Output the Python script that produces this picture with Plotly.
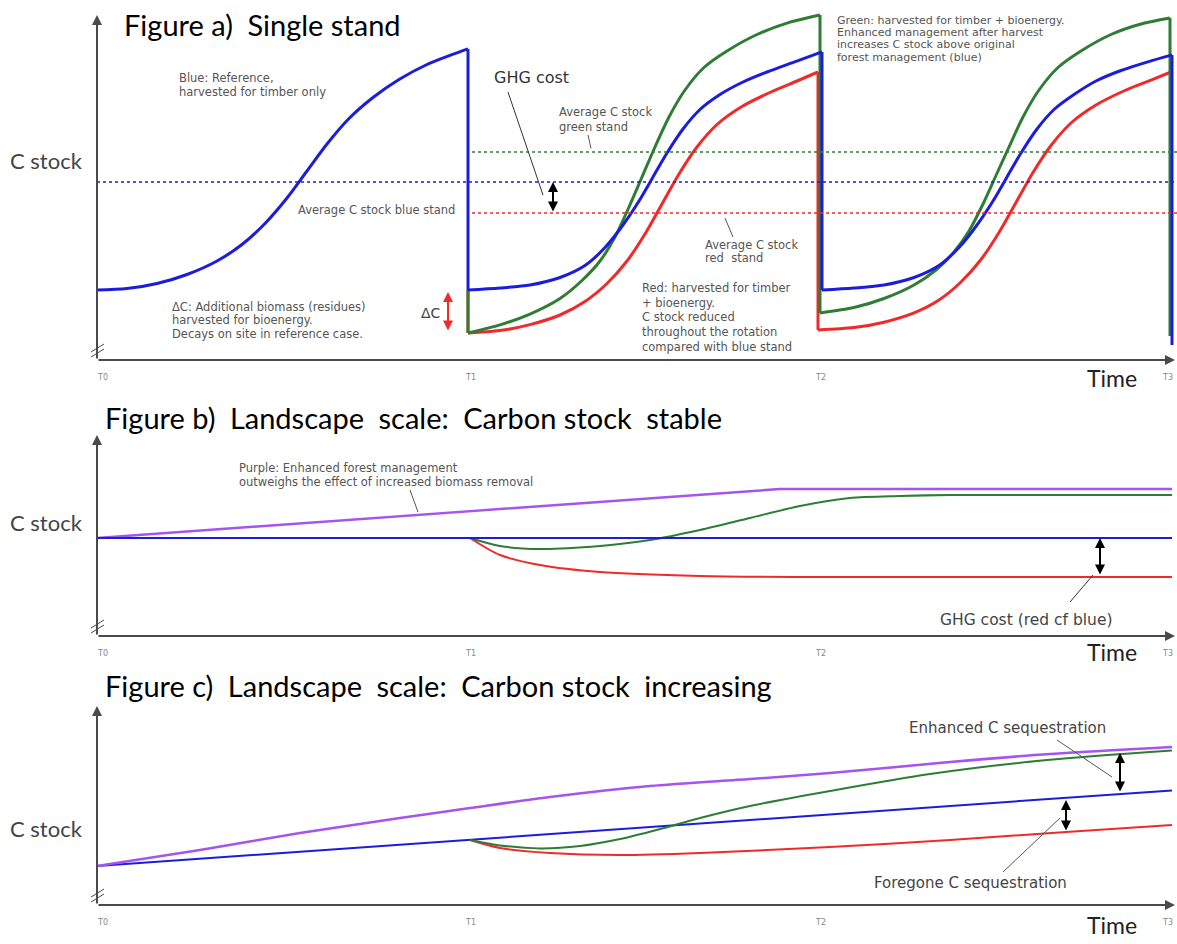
import plotly.graph_objects as go

W, H = 1177, 944

# ---------------- Figure a: single stand (time in years, C stock in arbitrary units) -------------
A_BLUE_T = [0, 3, 6, 9, 12, 14.5, 16.8, 19, 21, 23, 25.2, 27.6, 30.2, 33, 35.5, 37.1,
            37.1, 40.3, 43.3, 46.3, 48.8, 50.8, 52.6, 54.2, 55.6, 57, 58.6, 60.3, 62.3, 64.5, 67, 69.7, 72.5,
            72.5, 75.7, 78.7, 81.7, 84.2, 86.2, 88, 89.6, 91, 92.4, 94, 95.7, 97.7, 99.9, 102.4, 105, 107.5,
            107.5]
A_BLUE_C = [23.3, 23.8, 25.5, 28.5, 33, 38.5, 45.5, 54, 63, 72, 80.5, 87.5, 93.5, 98.5, 101.8, 103.7,
            23.3, 24, 25, 27.5, 31.5, 37.5, 45, 53, 61, 69, 77, 83.5, 88.5, 92.5, 96, 99.3, 102.7,
            23.3, 24, 25, 27.5, 31.5, 37.5, 45, 53, 61, 69, 77, 83.5, 88.5, 93, 96.5, 99.3, 101.7,
            5]
A_GREEN_T = [37.1, 37.1, 40.3, 43.3, 46.3, 48.5, 50.3, 51.8, 53.2, 54.5, 55.8, 57.2, 58.8, 60.7, 63, 66, 69, 72.3,
             72.3, 75.7, 78.7, 81.7, 83.9, 85.7, 87.2, 88.6, 89.9, 91.2, 92.6, 94.2, 96.1, 98.4, 101.4, 104.4, 107.3,
             107.3]
A_GREEN_C = [23.3, 9, 11.7, 15.3, 20.5, 26.5, 33, 41, 51, 61, 71, 81, 90, 97.5, 103, 108.5, 112.3, 115,
             15.7, 17.5, 20.5, 25, 30, 36, 43, 52, 61.5, 71, 81, 90, 97.5, 103, 108.5, 112, 114,
             8]
A_RED_T = [37.1, 37.1, 40.3, 43.3, 46.3, 48.8, 51, 53, 54.8, 56.5, 58.2, 60, 62, 64.5, 67.5, 70, 72.1,
           72.1, 75.7, 78.7, 81.7, 84.2, 86.4, 88.4, 90.2, 91.9, 93.6, 95.4, 97.4, 99.9, 102.9, 105.4, 107.4,
           107.4]
A_RED_C = [23.3, 9, 9.8, 11.8, 15, 19.5, 25.5, 33, 42, 52, 62, 71, 78.5, 84.5, 89.5, 93, 96,
           10, 10.8, 12.6, 15.7, 20, 26, 33.5, 42.5, 52.5, 62.5, 71.5, 79, 85, 90, 93.3, 96,
           8]
A_AVG_BLUE = 59.3
A_AVG_GREEN = 69.3
A_AVG_RED = 49

# ---------------- Figure b: landscape, carbon stock stable ----------------
B_BLUE_T = [0, 107.5]
B_BLUE_C = [49, 49]
B_PURPLE_T = [0, 68.3, 107.5]
B_PURPLE_C = [49, 73.5, 73.5]
B_GREEN_T = [37.3, 40.3, 44.3, 50.3, 55.3, 60.3, 65.3, 70.3, 75.3, 80.3, 85.3, 107.5]
B_GREEN_C = [49, 45, 43.5, 45, 48, 53, 59, 65, 69, 70, 70.5, 70.5]
B_RED_T = [37.3, 40.3, 44.3, 50.3, 60.3, 70.3, 107.5]
B_RED_C = [49, 40.5, 35.5, 32, 30, 29.5, 29.5]

# ---------------- Figure c: landscape, carbon stock increasing ----------------
C_BLUE_T = [0, 107.5]
C_BLUE_C = [19.5, 57.3]
C_PURPLE_T = [0, 10.3, 20.3, 30.3, 37.3, 45.3, 55.3, 65.3, 73.3, 85.3, 95.3, 107.5]
C_PURPLE_C = [19.5, 27.5, 36, 43.5, 48.5, 54, 59.5, 63, 66, 71.5, 75.5, 79]
C_GREEN_T = [37.3, 40.3, 44.3, 48.3, 52.3, 56.3, 60.3, 65.3, 73.3, 83.3, 95, 107.5]
C_GREEN_C = [32.5, 29.8, 28.3, 29.5, 33, 38, 43.5, 49.5, 57, 65.5, 72.5, 77.3]
C_RED_T = [37.3, 40.3, 45.3, 52.3, 60.3, 73.3, 85.3, 96.9, 107.5]
C_RED_C = [32.5, 28.5, 26, 25, 26, 29, 32.5, 36.5, 40]

T_TICKS = [0.5, 37.3, 72.3, 107]
T_LABELS = ["T0", "T1", "T2", "T3"]

TITLES = ["Figure a)\u2002Single stand",
          "Figure b)\u2002Landscape\u2002scale:\u2002Carbon stock\u2002stable",
          "Figure c)\u2002Landscape\u2002scale:\u2002Carbon stock\u2002increasing"]

BLUE, GREEN, RED, PURPLE = "#1c1cdc", "#2f7d34", "#f02a2a", "#a455ee"
AXC = "#4a4a4a"
TXT = "#555555"
SMALL = "DejaVu Sans"
BIG = "Lato"
SF = 11.5  # small annotation font size

X_MAX = 108
# panel vertical placement: (pixel row of the time axis, pixel row of the top of the range, units per pixel)
PANEL = {"": (360, 5, 3.0), "2": (636, 430, 2.0), "3": (905, 700, 2.0)}
ARROW_TOP = {"": 15, "2": 435, "3": 706}

fig = go.Figure()


def add_series(t, c, color, width, k):
    segs = []
    ct, cc = [t[0]], [c[0]]
    for i in range(1, len(t)):
        if t[i] == t[i - 1]:
            if len(ct) > 1:
                segs.append((ct, cc))
            segs.append(([t[i - 1], t[i]], [c[i - 1], c[i]]))
            ct, cc = [t[i]], [c[i]]
        else:
            ct.append(t[i])
            cc.append(c[i])
    if len(ct) > 1:
        segs.append((ct, cc))
    for tt, yy in segs:
        shp = "spline" if len(tt) > 3 else "linear"
        fig.add_trace(go.Scatter(x=tt, y=yy, mode="lines", xaxis="x" + k, yaxis="y" + k,
                                 line=dict(color=color, width=width, shape=shp, smoothing=0.8),
                                 hoverinfo="skip", showlegend=False))


def note(x, y, text, k, size=SF, color=TXT, family=SMALL, xanchor="left", yanchor="middle"):
    fig.add_annotation(x=x, y=y, xref="x" + k, yref="y" + k, text=text, showarrow=False,
                       font=dict(size=size, color=color, family=family),
                       xanchor=xanchor, yanchor=yanchor)


def note_lines(x, y0, dy, lines, k, **kw):
    for i, ln in enumerate(lines):
        note(x, y0 - i * dy, ln, k, **kw)


def seg(x0, y0, x1, y1, k, color="#555555", width=1, dash=None):
    fig.add_shape(type="line", x0=x0, y0=y0, x1=x1, y1=y1, xref="x" + k, yref="y" + k,
                  line=dict(color=color, width=width, dash=dash))


def dbl_arrow(x, y0, y1, k, color="black", width=2):
    fig.add_annotation(x=x, y=y1, ax=x, ay=y0, xref="x" + k, yref="y" + k,
                       axref="x" + k, ayref="y" + k, text="", showarrow=True,
                       arrowhead=2, startarrowhead=2, arrowside="end+start",
                       arrowsize=1, startarrowsize=1, arrowwidth=width, arrowcolor=color)


def px(x):
    return x / W


def py(y):
    return 1 - y / H


def frame(k, title, title_x, title_y, cstock_y, time_y):
    base = PANEL[k][0]
    # time axis arrow
    fig.add_annotation(x=px(1175), y=py(base), xref="paper", yref="paper", ax=97 - 1175, ay=0,
                       text="", showarrow=True, arrowhead=2, arrowsize=1, arrowwidth=2,
                       arrowcolor=AXC)
    # C stock axis arrow
    top = ARROW_TOP[k]
    fig.add_annotation(x=px(97), y=py(top), xref="paper", yref="paper", ax=0, ay=base - top,
                       text="", showarrow=True, arrowhead=2, arrowsize=1, arrowwidth=2,
                       arrowcolor=AXC)
    # axis break marks
    for off in (0, 5):
        fig.add_shape(type="line", xref="paper", yref="paper",
                      x0=px(91), y0=py(base - 3 - off), x1=px(104), y1=py(base - 11 - off),
                      line=dict(color=AXC, width=1))
    for tv, tl in zip(T_TICKS, T_LABELS):
        fig.add_annotation(x=tv, y=0, xref="x" + k, yref="y" + k, text=tl, showarrow=False,
                           yshift=-17, font=dict(size=8, color="#888888", family=SMALL))
    fig.add_annotation(x=px(8), y=py(cstock_y), xref="paper", yref="paper", text="C stock",
                       showarrow=False, xanchor="left", yanchor="middle",
                       font=dict(size=22, color="#444444", family=BIG))
    fig.add_annotation(x=px(1112), y=py(time_y), xref="paper", yref="paper", text="Time",
                       showarrow=False, xanchor="center", yanchor="middle",
                       font=dict(size=23, color="#222222", family=BIG))
    fig.add_annotation(x=px(title_x), y=py(title_y), xref="paper", yref="paper", text=title,
                       showarrow=False, xanchor="left", yanchor="middle",
                       font=dict(size=29, color="#000000", family=BIG))


# ---------------- panel a ----------------
frame("", TITLES[0], 122, 25, 160, 378)
seg(0, A_AVG_BLUE, X_MAX, A_AVG_BLUE, "", color=BLUE, width=1.5, dash="dot")
seg(37.5, A_AVG_GREEN, X_MAX, A_AVG_GREEN, "", color=GREEN, width=1.5, dash="dot")
seg(37.5, A_AVG_RED, X_MAX, A_AVG_RED, "", color=RED, width=1.5, dash="dot")
add_series(A_RED_T, A_RED_C, RED, 3, "")
add_series(A_GREEN_T, A_GREEN_C, GREEN, 3, "")
add_series(A_BLUE_T, A_BLUE_C, BLUE, 3, "")

note_lines(8, 94, 4.7, ["Blue: Reference,", "harvested for timber only"], "")
note(39.5, 94.3, "GHG cost", "", size=16, color="#333333")
seg(41.1, 89.3, 44.6, 55, "", color="#333333")
dbl_arrow(45.6, A_AVG_RED, A_AVG_BLUE, "")
note_lines(46, 82.7, 4.9, ["Average C stock", "green stand"], "")
seg(49.1, 75, 49.4, 70.5, "")
note(19.9, 50, "Average C stock blue stand", "")
note_lines(60.6, 38.3, 4.4, ["Average C stock", "red  stand"], "")
seg(62.8, 47.3, 63.6, 41, "")
note_lines(54.3, 24, 4.9, ["Red: harvested for timber", "+ bioenergy.", "C stock reduced",
                           "throughout the rotation", "compared with blue stand"], "")
note_lines(73.8, 113.3, 4.1, ["Green: harvested for timber + bioenergy.",
                              "Enhanced management after harvest",
                              "increases C stock above original",
                              "forest management (blue)"], "", size=11)
note_lines(7.3, 17.7, 4.5, ["\u0394C: Additional biomass (residues)",
                            "harvested for bioenergy.",
                            "Decays on site in reference case."], "")
note(33.4, 15.7, "\u0394C", "", size=14, color="#444444", xanchor="center")
dbl_arrow(35.1, 9.3, 22.7, "", color=RED, width=2)

# ---------------- panel b ----------------
frame("2", TITLES[1], 103, 417, 522, 652)
add_series(B_PURPLE_T, B_PURPLE_C, PURPLE, 2.5, "2")
add_series(B_RED_T, B_RED_C, RED, 2, "2")
add_series(B_GREEN_T, B_GREEN_C, GREEN, 2, "2")
add_series(B_BLUE_T, B_BLUE_C, BLUE, 2, "2")
note_lines(14, 84, 7, ["Purple: Enhanced forest management",
                       "outweighs the effect of increased biomass removal"], "2")
seg(31.3, 73, 32.1, 62, "2")
dbl_arrow(100.3, 30, 49, "2")
note(92.9, 8, "GHG cost (red cf blue)", "2", size=15.5, color="#444444", xanchor="center")
seg(97.3, 17, 99.6, 30.5, "2", color="#333333")

# ---------------- panel c ----------------
frame("3", TITLES[2], 103, 685, 828, 925)
add_series(C_RED_T, C_RED_C, RED, 2, "3")
add_series(C_BLUE_T, C_BLUE_C, BLUE, 2, "3")
add_series(C_GREEN_T, C_GREEN_C, GREEN, 2, "3")
add_series(C_PURPLE_T, C_PURPLE_C, PURPLE, 2.5, "3")
note(91, 88.5, "Enhanced C sequestration", "3", size=15, color="#444444", xanchor="center")
seg(96, 82.5, 101.5, 64, "3")
dbl_arrow(102.3, 56, 76, "3")
note(87.3, 11, "Foregone C sequestration", "3", size=15, color="#444444", xanchor="center")
seg(90.6, 16.5, 96.3, 43.5, "3")
dbl_arrow(96.9, 36.5, 52.5, "3")

# ---------------- layout ----------------
layout = dict(width=W, height=H, margin=dict(l=0, r=0, t=0, b=0),
              paper_bgcolor="white", plot_bgcolor="white", showlegend=False)
for k in ("", "2", "3"):
    base, top, upp = PANEL[k]
    layout["xaxis" + k] = dict(domain=[97 / W, 1], range=[0, X_MAX], visible=False,
                               anchor="y" + k, fixedrange=True)
    layout["yaxis" + k] = dict(domain=[py(base), py(top)], range=[0, (base - top) / upp],
                               visible=False, anchor="x" + k, fixedrange=True)
fig.update_layout(**layout)
fig.write_html("out.html", config={"displayModeBar": False},
               post_script="document.body.style.margin='0px';document.body.style.overflow='hidden';")
